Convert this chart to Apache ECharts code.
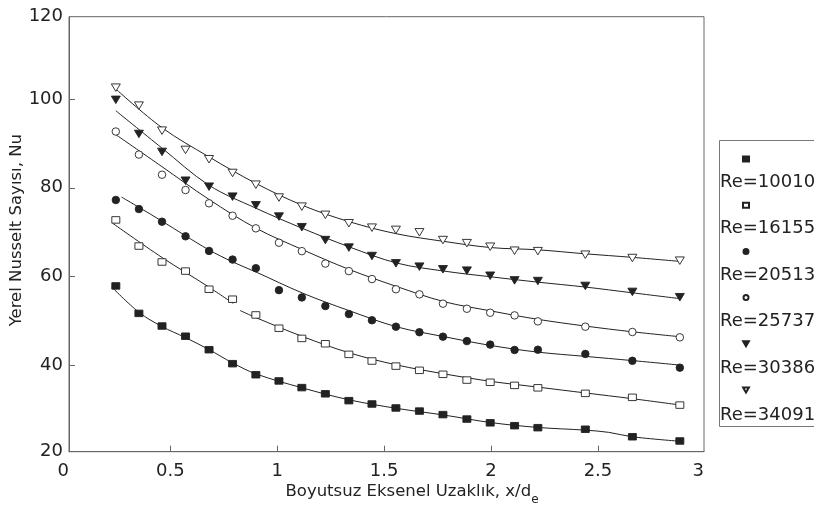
<!DOCTYPE html>
<html><head><meta charset="utf-8">
<script src="https://cdn.jsdelivr.net/npm/echarts@6/dist/echarts.min.js"></script>
<style>html,body{margin:0;padding:0;background:#fff}#c{width:814px;height:521px}</style>
</head><body><div id="c"></div>
<script>
// ---- data ----
const xPos = [0.245,0.353,0.461,0.571,0.681,0.791,0.900,1.008,1.115,1.225,1.335,1.443,1.555,1.665,1.775,1.887,1.996,2.110,2.219,2.441,2.661,2.883];
const seriesNames = ['Re=10010','Re=16155','Re=20513','Re=25737','Re=30386','Re=34091'];
const nu10010 = [57.85,51.65,48.8,46.5,43.45,40.3,37.8,36.4,34.9,33.5,31.95,31.2,30.3,29.6,28.8,27.8,26.95,26.3,25.85,25.5,23.8,22.85];
const nu16155 = [72.75,66.85,63.25,61.2,57.1,54.85,51.3,48.3,46.0,44.8,42.4,40.9,39.75,38.8,37.9,36.6,36.1,35.4,34.85,33.6,32.7,30.95];
const nu20513 = [77.25,75.2,72.35,69.05,65.75,63.8,61.85,56.9,55.25,53.3,51.5,50.1,48.65,47.4,46.4,45.4,44.6,43.4,43.45,42.5,40.95,39.4];
const nu25737 = [92.7,87.5,82.95,79.5,76.5,73.7,70.85,67.6,65.7,62.9,61.2,59.4,57.1,55.95,53.85,52.7,51.8,51.2,49.85,48.65,47.45,46.25];
const nu30386 = [99.85,92.15,88.1,81.6,80.25,78.0,76.05,73.5,71.1,68.2,66.5,64.6,62.95,62.2,61.6,61.3,60.15,59.1,58.95,57.85,56.5,55.3];
const nu34091 = [102.6,98.55,92.9,88.55,86.45,83.35,80.7,77.8,75.75,73.9,72.0,71.0,70.5,69.95,68.2,67.5,66.7,65.8,65.7,64.9,64.15,63.55];

// fitted curves
const fit10010 = [[0.226,57.6],[0.353,51.9],[0.46,48.7],[0.57,46.2],[0.68,43.5],[0.79,40.5],[0.9,38.0],[1.12,34.8],[1.34,32.1],[1.56,30.2],[1.78,28.7],[2.0,27.0],[2.22,25.9],[2.44,25.3],[2.55,24.8],[2.66,23.8],[2.88,22.8]];
const fit16155a = [[0.23,72.0],[0.46,64.3],[0.68,57.6],[0.794,53.9]];
const fit16155b = [[0.826,52.3],[0.9,50.7],[1.12,46.4],[1.34,42.7],[1.56,40.0],[1.78,38.0],[2.0,36.3],[2.22,35.0],[2.44,33.7],[2.66,32.4],[2.88,31.0]];
const fit20513 = [[0.272,77.9],[0.353,75.6],[0.46,72.5],[0.57,69.2],[0.68,66.0],[0.79,63.3],[0.9,61.0],[1.12,56.2],[1.34,52.2],[1.56,48.6],[1.78,46.4],[2.0,44.4],[2.22,42.9],[2.44,41.95],[2.66,41.0],[2.88,40.0]];
const fit25737 = [[0.245,92.0],[0.46,84.8],[0.68,77.4],[0.9,70.9],[1.12,66.0],[1.34,61.5],[1.56,57.7],[1.78,54.3],[2.0,52.2],[2.22,50.3],[2.44,48.8],[2.66,47.5],[2.88,46.4]];
const fit30386 = [[0.245,97.4],[0.46,89.0],[0.68,80.6],[0.9,75.4],[1.12,70.8],[1.34,66.6],[1.56,63.0],[1.78,61.2],[2.0,59.9],[2.22,58.7],[2.44,57.6],[2.66,56.3],[2.88,55.0]];
const fit34091 = [[0.245,102.3],[0.46,93.6],[0.68,87.0],[0.9,81.0],[1.12,76.0],[1.34,72.3],[1.56,69.6],[1.78,67.9],[2.0,66.5],[2.22,66.0],[2.44,65.1],[2.66,64.3],[2.88,63.4]];

const xTickVals = [0.5,1,1.5,2,2.5];
const yTickVals = [40,60,80,100];
const X_MIN = 0.026, X_MAX = 2.996, Y_MIN = 20.43, Y_MAX = 118.62;
const xLabelVals = [X_MIN,0.5,1,1.5,2,2.5,X_MAX];
const xLabelText = ['0','0.5','1','1.5','2','2.5','3'];
const yLabelVals = [Y_MIN,40,60,80,100,Y_MAX];
const yLabelText = ['20','40','60','80','100','120'];

// ---- chart ----
const FONT = 'DejaVu Sans';
const INK = '#222';
const TRI_DOWN = 'path://M0,0 L10,0 L5,8.7 Z';
const markerStyles = [
  {symbol:'rect', size:[8,6.5], fill:INK, border:INK},
  {symbol:'rect', size:[8,6.5], fill:'#fff', border:INK},
  {symbol:'circle', size:7.5, fill:INK, border:INK},
  {symbol:'circle', size:7.5, fill:'#fff', border:INK},
  {symbol:TRI_DOWN, size:[9,7.5], fill:INK, border:INK},
  {symbol:TRI_DOWN, size:[9,7.5], fill:'#fff', border:INK}
];
const nuSets = [nu10010,nu16155,nu20513,nu25737,nu30386,nu34091];
const fitSets = [fit10010,fit16155a,fit16155b,fit20513,fit25737,fit30386,fit34091];

const series = [];
fitSets.forEach((f,k)=>{
  series.push({type:'line', name:'fit'+k, data:f, smooth:0.35, showSymbol:false, symbol:'none',
    lineStyle:{color:INK,width:1}, z:1, silent:true, animation:false});
});
seriesNames.forEach((n,k)=>{
  const m = markerStyles[k];
  series.push({type:'scatter', name:n, data:xPos.map((x,i)=>[x,nuSets[k][i]]),
    symbol:m.symbol, symbolSize:m.size, symbolKeepAspect:false,
    itemStyle:{color:m.fill, borderColor:m.border, borderWidth:0.9, opacity:1}, z:3, animation:false});
});

const chart = echarts.init(document.getElementById('c'));
chart.setOption({
  backgroundColor:'#fff',
  animation:false,
  grid:{left:69, right:110, top:16.7, bottom:69.3, show:true, borderColor:'#666', borderWidth:1,
    containLabel:false, outerBoundsMode:'none'},
  xAxis:{type:'value', min:X_MIN, max:X_MAX,
    name:'Boyutsuz Eksenel Uzaklık, x/d{sub|e}', nameLocation:'middle', nameGap:26, nameMoveOverlap:false,
    nameTextStyle:{fontFamily:FONT, fontSize:16.5, color:INK, padding:[0,0,0,51],
      rich:{sub:{fontFamily:FONT, fontSize:12, color:INK, padding:[16,0,0,0]}}},
    axisLine:{lineStyle:{color:'#666',width:1}},
    axisTick:{inside:true, length:6, customValues:xTickVals, lineStyle:{color:'#666'}},
    axisLabel:{customValues:xLabelVals, margin:11, fontFamily:FONT, fontSize:18, color:INK,
      alignMinLabel:'right', alignMaxLabel:'right',
      formatter:(v)=>{const i=xLabelVals.findIndex(t=>Math.abs(t-v)<1e-6); return i>=0?xLabelText[i]:'';}},
    splitLine:{show:false}},
  yAxis:{type:'value', min:Y_MIN, max:Y_MAX,
    name:'Yerel Nusselt Sayısı, Nu', nameLocation:'middle', nameGap:44, nameRotate:90, nameMoveOverlap:false,
    nameTextStyle:{fontFamily:FONT, fontSize:16.5, color:INK, padding:[0,0,0,8]},
    axisLine:{show:true, lineStyle:{color:'#666',width:1}},
    axisTick:{show:true, inside:true, length:6, customValues:yTickVals, lineStyle:{color:'#666'}},
    axisLabel:{customValues:yLabelVals, margin:6, fontFamily:FONT, fontSize:18, color:INK,
      formatter:(v)=>{const i=yLabelVals.findIndex(t=>Math.abs(t-v)<1e-6); return i>=0?yLabelText[i]:'';}},
    splitLine:{show:false}},
  legend:[
    {data:seriesNames, orient:'vertical', left:742, top:155.5, itemWidth:6, itemHeight:5, itemGap:39.2,
      padding:0, formatter:()=>'', textStyle:{fontSize:5, lineHeight:5}},
    {data:seriesNames, orient:'vertical', left:715, top:171, itemWidth:0, itemHeight:0, icon:'none', itemGap:24.6,
      padding:0, textStyle:{fontFamily:FONT, fontSize:18, lineHeight:22, color:INK}}
  ],
  graphic:[{type:'rect', shape:{x:719.5, y:140.5, width:120, height:286}, style:{fill:'none', stroke:'#777', lineWidth:1}, silent:true}],
  series:series
});
</script></body></html>
